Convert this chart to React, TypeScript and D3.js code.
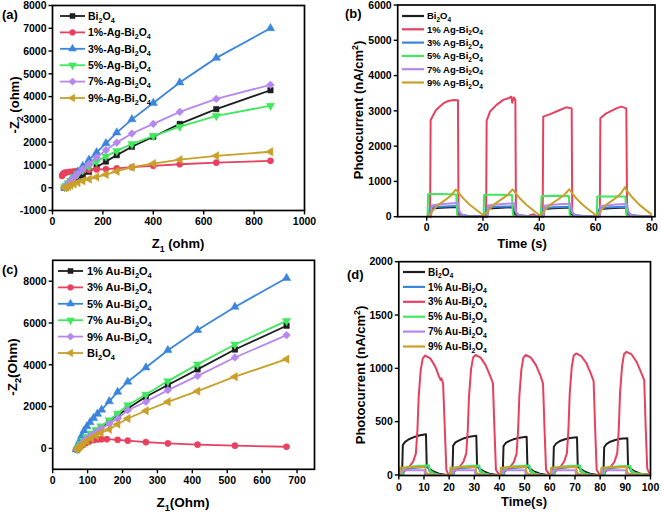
import React from 'react';
import * as d3 from 'd3';

// ---------------- Panel (a): Nyquist, Ag ----------------
const aLegend = ['Bi_2O_4', '1%-Ag-Bi_2O_4', '3%-Ag-Bi_2O_4', '5%-Ag-Bi_2O_4', '7%-Ag-Bi_2O_4', '9%-Ag-Bi_2O_4'];
const aZ1 = [48, 55, 62, 72, 85, 100, 120, 145, 175, 212, 255, 315, 400, 505, 650, 865];
const aBi = [0, 50, 110, 190, 290, 400, 540, 700, 900, 1150, 1430, 1800, 2240, 2800, 3450, 4280];
const aAg3 = [0, 90, 190, 330, 500, 700, 950, 1230, 1550, 1950, 2420, 3000, 3720, 4620, 5700, 7000];
const aAg5 = [20, 100, 200, 320, 460, 600, 770, 950, 1150, 1380, 1620, 1920, 2270, 2680, 3150, 3600];
const aAg7 = [10, 90, 180, 300, 450, 620, 820, 1050, 1330, 1650, 1980, 2380, 2800, 3330, 3900, 4520];
const aAg9 = [0, 25, 60, 110, 170, 230, 300, 380, 470, 580, 720, 900, 1060, 1230, 1400, 1580];
const aAg1Z1 = [38, 40, 44, 50, 58, 70, 85, 100, 120, 145, 175, 212, 255, 315, 400, 505, 650, 865];
const aAg1 = [520, 580, 630, 660, 680, 700, 720, 740, 760, 780, 800, 820, 850, 900, 960, 1030, 1100, 1180];
const aXTicks = [0, 200, 400, 600, 800, 1000];
const aYTicks = [-1000, 0, 1000, 2000, 3000, 4000, 5000, 6000, 7000, 8000];

// ---------------- Panel (b): photocurrent, Ag ----------------
const bLegend = ['Bi_2O_4', '1% Ag-Bi_2O_4', '3% Ag-Bi_2O_4', '5% Ag-Bi_2O_4', '7% Ag-Bi_2O_4', '9% Ag-Bi_2O_4'];
const bBi = [[0,0],[1.5,0],[1.7,230],[5,255],[10.8,275],[11.2,60],[13,10],[21.5,0],[21.7,230],[25,250],[30.8,270],[31.2,60],[33,10],[41.5,0],[41.7,220],[45,240],[50.8,260],[51.2,60],[53,10],[61.5,0],[61.7,220],[65,240],[70.8,260],[71.2,60],[73,10],[80,0]];
const bAg1 = [[0,0],[1.2,0],[1.4,2740],[3.3,3025],[5.9,3210],[7.7,3280],[9.5,3310],[11.1,3300],[11.3,120],[12,40],[16,15],[21.1,10],[21.3,2720],[22.5,2980],[24.8,3170],[27.2,3310],[29,3355],[30.1,3400],[30.4,3230],[31,3380],[31.5,3310],[31.7,120],[32.5,40],[36,20],[38,70],[39,20],[41.2,10],[41.4,2835],[43.7,2900],[47.3,3025],[49.6,3100],[51.5,3070],[51.7,120],[52.5,40],[57,15],[61.5,10],[61.7,2790],[63.8,2930],[67.4,3070],[69.1,3120],[70.9,3070],[71.2,120],[72,40],[77,20],[80,10]];
const bAg3 = [[0,0],[0.8,0],[1,200],[1.8,265],[4.7,283],[10.6,303],[11,300],[11.8,96],[13,47],[15,10],[20.8,0],[21,200],[21.8,260],[25,280],[30.6,295],[31,290],[31.8,96],[33,47],[35,10],[40.8,0],[41,190],[41.8,250],[45,270],[50.6,285],[51,280],[51.8,96],[53,47],[55,10],[60.8,0],[61,190],[61.8,245],[65,265],[70.6,280],[71,275],[71.8,96],[73,47],[75,10],[80,0]];
const bAg5 = [[0,0],[0.3,0],[0.5,640],[5,640],[10.5,630],[10.8,60],[11.5,15],[20.2,0],[20.4,620],[25,625],[30.3,615],[30.6,60],[31.5,15],[40.5,0],[40.8,590],[45,595],[50.5,585],[50.8,60],[51.5,15],[60.4,0],[60.6,570],[65,575],[70.6,570],[70.9,60],[71.5,15],[80,0]];
const bAg7 = [[0,0],[1.5,0],[1.8,320],[4,345],[7,365],[10.8,385],[11.2,380],[11.6,150],[12.5,60],[14,15],[21.5,0],[21.8,320],[24,340],[27,360],[30.8,380],[31.2,375],[31.6,150],[32.5,60],[34,15],[41.5,0],[41.8,310],[44,330],[47,350],[50.8,370],[51.2,365],[51.6,150],[52.5,60],[54,15],[61.5,0],[61.8,300],[64,320],[67,345],[70.8,360],[71.2,355],[71.6,150],[72.5,60],[74,15],[80,0]];
const bAg9 = [[0,0],[1,60],[3.5,300],[6.5,470],[8.8,610],[10.3,770],[10.7,740],[13,520],[15.4,330],[17.7,190],[20.1,40],[21,90],[23.5,320],[26.5,490],[28.8,620],[30.5,775],[30.9,740],[33,530],[35.4,340],[37.7,190],[40.1,40],[41,90],[43.5,320],[46.5,480],[48.8,610],[50.6,775],[51,740],[53,530],[55.4,340],[57.7,190],[60.1,40],[61,90],[63.5,320],[66.5,490],[68.8,640],[70.5,840],[70.9,760],[73,550],[75.4,350],[77.7,200],[80,60]];
const bXTicks = [0, 20, 40, 60, 80];
const bYTicks = [0, 1000, 2000, 3000, 4000, 5000, 6000];

// ---------------- Panel (c): Nyquist, Au ----------------
const cLegend = ['1% Au-Bi_2O_4', '3% Au-Bi_2O_4', '5% Au-Bi_2O_4', '7% Au-Bi_2O_4', '9% Au-Bi_2O_4', 'Bi_2O_4'];
const cZ1 = [70, 75, 80, 88, 97, 110, 124, 138, 162, 186, 215, 267, 330, 415, 522, 670];
const cAu1 = [-50, 90, 200, 350, 500, 670, 830, 1000, 1280, 1590, 1910, 2470, 3030, 3780, 4730, 5870];
const cAu7 = [-50, 100, 220, 380, 540, 720, 880, 1060, 1350, 1670, 2070, 2580, 3220, 4020, 4970, 6100];
const cAu9 = [-50, 80, 180, 320, 460, 620, 770, 930, 1180, 1430, 1830, 2230, 2790, 3470, 4350, 5420];
const cBi = [-50, 50, 120, 230, 350, 480, 610, 740, 910, 1160, 1430, 1800, 2230, 2740, 3430, 4270];
const cAu5Z1 = [67, 72, 77, 83, 90, 98, 107, 117, 128, 140, 162, 186, 215, 267, 330, 415, 522, 670];
const cAu5 = [-50, 150, 350, 600, 850, 1050, 1250, 1450, 1650, 1850, 2250, 2700, 3190, 3870, 4700, 5660, 6770, 8150];
const cAu3Z1 = [67, 75, 85, 95, 105, 118, 130, 140, 155, 186, 215, 267, 330, 415, 522, 670];
const cAu3 = [-50, 60, 150, 250, 330, 400, 430, 440, 440, 410, 370, 300, 240, 180, 130, 80];
const cXTicks = [0, 100, 200, 300, 400, 500, 600, 700];
const cYTicks = [0, 2000, 4000, 6000, 8000];

// ---------------- Panel (d): photocurrent, Au ----------------
const dLegend = ['Bi_2O_4', '1% Au-Bi_2O_4', '3% Au-Bi_2O_4', '5% Au-Bi_2O_4', '7% Au-Bi_2O_4', '9% Au-Bi_2O_4'];
const dBi = [[0,0],[1.3,0],[1.6,280],[2.5,310],[4,335],[6,355],[8,370],[10.8,382],[11.1,80],[12,60],[14,30],[16,12],[19,0],[21.3,0],[21.6,275],[22.5,305],[24,325],[26,345],[28,358],[30.8,368],[31.1,80],[32,60],[34,30],[36,12],[39,0],[41.3,0],[41.6,270],[42.5,300],[44,320],[46,338],[48,350],[50.8,358],[51.1,80],[52,60],[54,30],[56,12],[59,0],[61.3,0],[61.6,265],[62.5,295],[64,318],[66,335],[68,347],[70.8,354],[71.1,80],[72,60],[74,30],[76,12],[79,0],[81.3,0],[81.6,260],[82.5,290],[84,312],[86,328],[88,340],[90.8,345],[91.1,80],[92,60],[94,30],[96,12],[100,0]];
const dAu1 = [[0,0],[1.8,0],[2.1,50],[5,62],[9,72],[11.8,80],[12.2,35],[14,15],[17,0],[21.8,0],[22.1,50],[25,62],[29,72],[31.8,80],[32.2,35],[34,15],[37,0],[41.8,0],[42.1,50],[45,62],[49,72],[51.8,80],[52.2,35],[54,15],[57,0],[61.8,0],[62.1,50],[65,65],[69,78],[71.8,85],[72.2,35],[74,15],[77,0],[81.8,0],[82.1,50],[85,65],[89,78],[91.8,85],[92.2,35],[94,15],[100,0]];
const dAu3 = [[0,0],[0.4,0],[3.7,63],[5.7,125],[6.8,203],[7.4,422],[7.9,734],[8.7,984],[9.5,1094],[10.5,1120],[12.5,1094],[14.5,1016],[16,922],[16.6,891],[16.9,906],[17.6,859],[18.3,422],[18.9,47],[19.6,10],[20.4,0],[23.7,63],[25.7,125],[26.8,203],[27.4,422],[27.9,740],[28.7,990],[29.5,1100],[30.5,1125],[32.5,1100],[34.5,1030],[36.3,930],[37.4,860],[38,430],[38.6,50],[39.6,10],[40.4,0],[43.7,60],[45.7,120],[46.8,200],[47.4,420],[47.9,740],[48.7,990],[49.5,1100],[50.5,1125],[52.5,1100],[54.5,1030],[56.3,930],[57.3,855],[57.9,430],[58.5,50],[59.6,10],[60.4,0],[63.7,60],[65.7,125],[66.8,205],[67.4,430],[67.9,760],[68.7,1010],[69.5,1120],[70.5,1140],[72.5,1115],[74.5,1050],[76.3,950],[77.4,880],[78,440],[78.6,50],[79.6,10],[80.4,0],[83.7,60],[85.7,125],[86.8,205],[87.4,430],[87.9,770],[88.7,1020],[89.5,1135],[90.5,1155],[92.5,1130],[94.5,1060],[96.3,960],[97.5,890],[98.1,440],[98.7,60],[99.5,20],[100,20]];
const dAu5 = [[0,0],[1.5,0],[1.8,65],[4,78],[8,85],[12,90],[12.4,40],[14,15],[16,0],[21.5,0],[21.8,65],[24,78],[28,85],[32,88],[32.4,40],[34,15],[36,0],[41.5,0],[41.8,65],[44,78],[48,85],[52,88],[52.4,40],[54,15],[56,0],[61.5,0],[61.8,65],[64,78],[68,85],[72,88],[72.4,40],[74,15],[76,0],[81.5,0],[81.8,65],[84,75],[88,82],[92,85],[92.4,40],[94,15],[100,0]];
const dAu7 = [[0,0],[0.9,0],[1.1,45],[10.2,45],[10.4,0],[20.9,0],[21.1,45],[30.2,45],[30.4,0],[40.9,0],[41.1,45],[50.2,45],[50.4,0],[60.9,0],[61.1,45],[70.2,45],[70.4,0],[80.9,0],[81.1,45],[90.2,45],[90.4,0],[100,0]];
const dAu9 = [[0,0],[0.3,0],[0.5,68],[5,72],[10.5,75],[10.8,20],[12,8],[15,0],[20.3,0],[20.5,68],[25,72],[30.5,75],[30.8,20],[32,8],[35,0],[40.3,0],[40.5,68],[45,72],[50.5,75],[50.8,20],[52,8],[55,0],[60.3,0],[60.5,68],[65,72],[70.5,75],[70.8,20],[72,8],[75,0],[80.3,0],[80.5,68],[85,72],[90.5,75],[90.8,20],[92,8],[100,0]];
const dXTicks = [0, 10, 20, 30, 40, 50, 60, 70, 80, 90, 100];
const dYTicks = [0, 500, 1000, 1500, 2000];

// ---------------- styles ----------------
const C = {
  black: '#1e1e1e',
  red: '#e8405f',
  blue: '#3a85de',
  green: '#3fe85c',
  purple: '#b587ef',
  gold: '#c8a02a',
};
const FONT = "'Liberation Sans', Arial, sans-serif";

// Rich text: _x => subscript, ^x => superscript
function Rich({ text, x, y, size, anchor = 'start', transform }: any) {
  const parts: any[] = [];
  let shift = 0;
  let i = 0;
  let buf = '';
  const flush = () => {
    if (buf) {
      parts.push({ t: buf, dy: -shift, fs: size });
      shift = 0;
      buf = '';
    }
  };
  while (i < text.length) {
    const ch = text[i];
    if ((ch === '_' || ch === '^') && i + 1 < text.length) {
      flush();
      const target = ch === '_' ? size * 0.28 : -size * 0.42;
      parts.push({ t: text[i + 1], dy: target - shift, fs: size * 0.68 });
      shift = target;
      i += 2;
      continue;
    }
    buf += ch;
    i++;
  }
  flush();
  return (
    <text x={x} y={y} fontSize={size} fontWeight="bold" fontFamily={FONT} textAnchor={anchor} transform={transform} fill="#000">
      {parts.map((p, k) => (
        <tspan key={k} dy={p.dy} fontSize={p.fs}>{p.t}</tspan>
      ))}
    </text>
  );
}

function symbolPath(kind: string, size: number) {
  const map: any = {
    square: [d3.symbolSquare, 0],
    circle: [d3.symbolCircle, 0],
    up: [d3.symbolTriangle, 0],
    down: [d3.symbolTriangle, 180],
    diamond: [d3.symbolSquare, 45],
    left: [d3.symbolTriangle, -90],
  };
  const [t, rot] = map[kind];
  return { d: d3.symbol().type(t).size(size)() as string, rot };
}

function Marker({ kind, x, y, color, size = 30 }: any) {
  const { d, rot } = symbolPath(kind, size);
  return <path d={d} transform={`translate(${x},${y}) rotate(${rot})`} fill={color} stroke={color} strokeWidth={0.5} />;
}

function Axes({ sx, sy, xTicks, yTicks, fs = 11, xLabOff = 14, yLabOff = 6 }: any) {
  const [x0, x1] = sx.range();
  const [y1, y0] = sy.range();
  return (
    <g>
      <rect x={x0} y={y0} width={x1 - x0} height={y1 - y0} fill="none" stroke="#000" strokeWidth={1.7} />
      {xTicks.map((v: number) => (
        <g key={'x' + v}>
          <line x1={sx(v)} x2={sx(v)} y1={y1} y2={y1 + 4} stroke="#000" strokeWidth={1.4} />
          <text x={sx(v)} y={y1 + xLabOff} fontSize={fs} fontWeight="bold" fontFamily={FONT} textAnchor="middle">{v}</text>
        </g>
      ))}
      {yTicks.map((v: number) => (
        <g key={'y' + v}>
          <line x1={x0 - 4} x2={x0} y1={sy(v)} y2={sy(v)} stroke="#000" strokeWidth={1.4} />
          <text x={x0 - yLabOff} y={sy(v) + fs * 0.36} fontSize={fs} fontWeight="bold" fontFamily={FONT} textAnchor="end">{v}</text>
        </g>
      ))}
    </g>
  );
}

function ScatterSeries({ xs, ys, sx, sy, color, kind, msize }: any) {
  const pts = xs.map((x: number, i: number) => [x, ys[i]]);
  const line = d3.line<any>().x((d) => sx(d[0])).y((d) => sy(d[1]));
  return (
    <g>
      <path d={line(pts) as string} fill="none" stroke={color} strokeWidth={1.8} />
      {pts.map((p: any, i: number) => (
        <Marker key={i} kind={kind} x={sx(p[0])} y={sy(p[1])} color={color} size={msize} />
      ))}
    </g>
  );
}

function LineSeries({ pts, sx, sy, color }: any) {
  const line = d3.line<any>().x((d) => sx(d[0])).y((d) => sy(d[1]));
  return <path d={line(pts) as string} fill="none" stroke={color} strokeWidth={2} strokeLinejoin="round" />;
}

function Legend({ items, x0, x1, tx, y0, dy, fs, markers }: any) {
  return (
    <g>
      {items.map((it: any, i: number) => {
        const y = y0 + dy * i;
        return (
          <g key={i}>
            <line x1={x0} x2={x1} y1={y} y2={y} stroke={it.color} strokeWidth={markers ? 1.8 : 2.2} />
            {markers && <Marker kind={it.kind} x={(x0 + x1) / 2} y={y} color={it.color} size={26} />}
            <Rich text={it.label} x={tx} y={y + fs * 0.36} size={fs} />
          </g>
        );
      })}
    </g>
  );
}

export default function App() {
  // ---- scales ----
  const aX = d3.scaleLinear().domain([0, 1000]).range([52.5, 304.5]);
  const aY = d3.scaleLinear().domain([-1000, 8000]).range([210.5, 5.5]);
  const bX = d3.scaleLinear().domain([-10.3, 81.1]).range([397.7, 655]);
  const bY = d3.scaleLinear().domain([0, 6000]).range([216.7, 5]);
  const cX = d3.scaleLinear().domain([0, 750]).range([52.7, 314.5]);
  const cY = d3.scaleLinear().domain([-1000, 9000]).range([469.3, 260.3]);
  const dX = d3.scaleLinear().domain([0, 100]).range([398.8, 650.5]);
  const dY = d3.scaleLinear().domain([-5, 2000]).range([475.5, 261.7]);

  const aSeries = [
    { label: aLegend[0], xs: aZ1, ys: aBi, color: C.black, kind: 'square' },
    { label: aLegend[1], xs: aAg1Z1, ys: aAg1, color: C.red, kind: 'circle' },
    { label: aLegend[2], xs: aZ1, ys: aAg3, color: C.blue, kind: 'up' },
    { label: aLegend[3], xs: aZ1, ys: aAg5, color: C.green, kind: 'down' },
    { label: aLegend[4], xs: aZ1, ys: aAg7, color: C.purple, kind: 'diamond' },
    { label: aLegend[5], xs: aZ1, ys: aAg9, color: C.gold, kind: 'left' },
  ];
  const cSeries = [
    { label: cLegend[0], xs: cZ1, ys: cAu1, color: C.black, kind: 'square' },
    { label: cLegend[1], xs: cAu3Z1, ys: cAu3, color: C.red, kind: 'circle' },
    { label: cLegend[2], xs: cAu5Z1, ys: cAu5, color: C.blue, kind: 'up' },
    { label: cLegend[3], xs: cZ1, ys: cAu7, color: C.green, kind: 'down' },
    { label: cLegend[4], xs: cZ1, ys: cAu9, color: C.purple, kind: 'diamond' },
    { label: cLegend[5], xs: cZ1, ys: cBi, color: C.gold, kind: 'left' },
  ];
  const bSeries = [
    { label: bLegend[0], pts: bBi, color: C.black },
    { label: bLegend[1], pts: bAg1, color: C.red },
    { label: bLegend[2], pts: bAg3, color: C.blue },
    { label: bLegend[3], pts: bAg5, color: C.green },
    { label: bLegend[4], pts: bAg7, color: C.purple },
    { label: bLegend[5], pts: bAg9, color: C.gold },
  ];
  const dSeries = [
    { label: dLegend[0], pts: dBi, color: C.black },
    { label: dLegend[1], pts: dAu1, color: C.blue },
    { label: dLegend[2], pts: dAu3, color: C.red },
    { label: dLegend[3], pts: dAu5, color: C.green },
    { label: dLegend[4], pts: dAu7, color: C.purple },
    { label: dLegend[5], pts: dAu9, color: C.gold },
  ];

  return (
    <div style={{ position: 'absolute', left: 0, top: 0 }}>
      <svg width={661} height={513} style={{ display: 'block', background: '#fff' }}>
        {/* ---- (a) ---- */}
        <g>
          {aSeries.map((s, i) => (
            <ScatterSeries key={i} xs={s.xs} ys={s.ys} sx={aX} sy={aY} color={s.color} kind={s.kind} msize={30} />
          ))}
          <Axes sx={aX} sy={aY} xTicks={aXTicks} yTicks={aYTicks} fs={10.5} xLabOff={14} />
          <Legend items={aSeries} x0={60} x1={85} tx={88} y0={16} dy={16.4} fs={10.5} markers />
          <Rich text="Z_1 (ohm)" x={178} y={248} size={13} anchor="middle" />
          <Rich text="-Z_2 (ohm)" x={0} y={0} size={13} anchor="middle" transform="translate(19,105) rotate(-90)" />
          <text x={2} y={19} fontSize={13} fontWeight="bold" fontFamily={FONT}>(a)</text>
        </g>
        {/* ---- (b) ---- */}
        <g>
          {bSeries.map((s, i) => (
            <LineSeries key={i} pts={s.pts} sx={bX} sy={bY} color={s.color} />
          ))}
          <Axes sx={bX} sy={bY} xTicks={bXTicks} yTicks={bYTicks} fs={10.5} xLabOff={14} />
          <Legend items={bSeries} x0={402} x1={424} tx={427} y0={16} dy={13.3} fs={9.5} />
          <Rich text="Time (s)" x={522} y={248} size={13} anchor="middle" />
          <Rich text="Photocurrent (nA/cm^2)" x={0} y={0} size={13} anchor="middle" transform="translate(363,110) rotate(-90)" />
          <text x={345} y={18} fontSize={13} fontWeight="bold" fontFamily={FONT}>(b)</text>
        </g>
        {/* ---- (c) ---- */}
        <g>
          {cSeries.map((s, i) => (
            <ScatterSeries key={i} xs={s.xs} ys={s.ys} sx={cX} sy={cY} color={s.color} kind={s.kind} msize={30} />
          ))}
          <Axes sx={cX} sy={cY} xTicks={cXTicks} yTicks={cYTicks} fs={10.5} xLabOff={15} />
          <Legend items={cSeries} x0={58} x1={83} tx={87} y0={271} dy={16.4} fs={11} markers />
          <Rich text="Z_1(Ohm)" x={183} y={507} size={13.5} anchor="middle" />
          <Rich text="-Z_2(Ohm)" x={0} y={0} size={13.5} anchor="middle" transform="translate(17,367) rotate(-90)" />
          <text x={2} y={274} fontSize={13} fontWeight="bold" fontFamily={FONT}>(c)</text>
        </g>
        {/* ---- (d) ---- */}
        <g>
          {dSeries.map((s, i) => (
            <LineSeries key={i} pts={s.pts} sx={dX} sy={dY} color={s.color} />
          ))}
          <Axes sx={dX} sy={dY} xTicks={dXTicks} yTicks={dYTicks} fs={10.5} xLabOff={15} />
          <Legend items={dSeries} x0={403} x1={425} tx={428} y0={272} dy={14.9} fs={10} />
          <Rich text="Time(s)" x={524} y={506} size={13} anchor="middle" />
          <Rich text="Photocurrent (nA/cm^2)" x={0} y={0} size={13} anchor="middle" transform="translate(365,375) rotate(-90)" />
          <text x={347} y={279} fontSize={13} fontWeight="bold" fontFamily={FONT}>(d)</text>
        </g>
      </svg>
    </div>
  );
}
